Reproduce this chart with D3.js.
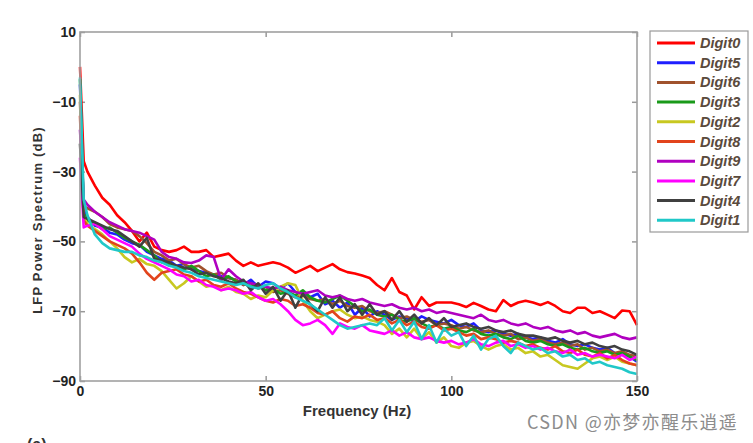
<!DOCTYPE html>
<html><head><meta charset="utf-8">
<script src="https://cdn.jsdelivr.net/npm/d3@7/dist/d3.min.js"></script>
<style>body{margin:0;background:#fff}svg{display:block}</style>
</head><body>
<svg id="c" width="753" height="443"></svg>
<script>
const freqs = [0,1,2,4,6,8,10,12,14,16,18,20,22,24,26,28,30,32,34,36,38,40,42,44,46,48,50,52,54,56,58,60,62,64,66,68,70,72,74,76,78,80,82,84,86,88,90,92,94,96,98,100,102,104,106,108,110,112,114,116,118,120,122,124,126,128,130,132,134,136,138,140,142,144,146,148,150];

const digit0 = [0,-27,
 -30,-34,-37.5,-39.5,-42.5,-44.5,-47,-50,-47.5,-51.5,
 -52.5,-53,-52.5,-51.5,-53,-53,-52.5,-54.5,-54,-53.5,
 -55.5,-57,-56,-57,-56.5,-56,-56.5,-57.5,-59,-58,
 -57,-58.5,-57.5,-56.5,-58,-58.8,-59.2,-59.8,-60.5,-62.5,
 -64,-60.5,-64.5,-65.5,-69.5,-66,-68.5,-67.5,-67.5,-67.5,
 -68,-68.8,-67.6,-68.5,-69.5,-70,-66.8,-68.5,-67.5,-67,
 -67.5,-68.2,-67.4,-68.5,-70,-70.5,-69,-69,-70.5,-70,
 -71,-72,-69.8,-70,-74];
const digit5 = [-5,-41,
 -43,-45.5,-46,-47.5,-48,-49.5,-50.5,-51,-53,-54,
 -55,-55.5,-57,-56.5,-58,-58.5,-59,-59.5,-60,-60.5,
 -61,-62.5,-61,-63,-61.5,-62,-63.5,-62,-64.5,-65,
 -66,-65,-68,-67,-69,-67.5,-71,-69,-71.5,-70,
 -71,-72.5,-71.5,-72,-73,-71.5,-72.5,-73,-73.5,-72.5,
 -74,-74.5,-73.5,-75.5,-76,-75.5,-76.5,-77,-76.5,-77.5,
 -78,-77.5,-78.5,-79,-78,-79.5,-80,-79.5,-80.5,-81,
 -80.5,-82,-82.5,-83,-84.5];
const digit6 = [-10,-40,
 -40.5,-41.5,-43,-45,-46,-46.5,-47,-48.5,-50.5,-53,
 -54,-55.5,-55,-56.5,-57.5,-57,-58.5,-59.5,-59,-60.5,
 -61,-62.5,-62,-63.5,-63,-64.5,-64,-65,-66,-65.5,
 -66.5,-67,-66.5,-68,-67,-68.5,-69,-68.5,-70,-70.5,
 -70,-71,-72,-71.5,-72.5,-73,-72.5,-74,-73.5,-74,
 -75,-74.5,-75.5,-76,-75.5,-76.5,-77,-76.5,-78,-77.5,
 -78.5,-78,-79,-79.5,-79,-80,-79.5,-81,-80.5,-81.5,
 -81,-82,-81.5,-82.5,-83];
const digit3 = [-3.5,-42,
 -44,-45,-46.5,-46,-47.5,-49,-50,-51,-52.5,-54,
 -56,-56.5,-57.5,-58,-57,-58.5,-60,-59.5,-61,-60,
 -61.5,-62,-63,-62.5,-64,-63.5,-65,-64.5,-65.5,-64,
 -66,-67,-67.5,-66.5,-65.5,-67,-68.5,-70,-69.5,-71,
 -71.5,-71,-72.5,-73,-72,-73.5,-74.5,-74,-75,-74.5,
 -75.5,-76,-75,-76.5,-77,-76.5,-77.5,-78,-77,-78.5,
 -79,-78.5,-79.5,-80,-79.5,-80.5,-81,-80.5,-81.5,-82,
 -81.5,-82.5,-82,-83,-84];
const digit2 = [-8,-43,
 -45,-46.5,-48,-50,-52,-54.5,-56,-55,-56.5,-57,
 -58.5,-61,-63.5,-62,-60,-61.5,-63,-62.5,-64,-63,
 -64.5,-65,-66.5,-65.5,-66,-64,-63,-62,-62.5,-67,
 -70,-72,-71,-70,-69.5,-71,-72,-71.5,-72.5,-73,
 -74,-76.5,-75,-77.5,-75,-78,-76,-79,-77.5,-80,
 -80.5,-79,-78.5,-80,-81,-80,-79.5,-81,-80.5,-82,
 -81.5,-83,-82.5,-84,-85.5,-86,-86.5,-85,-83.5,-83,
 -84,-83,-84.5,-85,-85.5];
const digit8 = [-14,-44,
 -45.5,-47,-48.5,-50,-51,-52,-53.5,-56,-59,-61,
 -59,-58.5,-58,-59.5,-60,-61.5,-61,-62.5,-63,-62,
 -63.5,-64.5,-65,-66,-67,-67.5,-66.5,-67,-68.5,-68,
 -69,-70.5,-71,-70,-72,-73,-71.5,-72,-71,-72.5,
 -72,-73.5,-72.5,-74,-73,-74.5,-75,-74,-75.5,-75,
 -76,-77,-76.5,-78,-77.5,-78,-79,-78.5,-79,-80,
 -79.5,-80.5,-81,-80,-81.5,-82,-81,-82.5,-83,-82,
 -83.5,-82.5,-84,-85,-85.5];
const digit9 = [-18,-38,
 -39.5,-41.5,-43,-44.5,-45.5,-46.5,-47,-47.5,-48.5,-49.5,
 -53,-54.5,-55,-56,-56.2,-55.5,-54,-54.5,-61,-58,
 -60,-61.5,-62,-62.5,-63,-63.5,-63,-64,-64.5,-65,
 -64.5,-64,-65.5,-66,-65.5,-66.5,-67,-66.5,-67.5,-68,
 -68.5,-68,-69,-69.5,-69,-70,-69.5,-70.5,-70,-70.5,
 -71,-71.5,-72,-71,-72.5,-73,-72.5,-73.5,-74,-73.5,
 -74.5,-75,-74.5,-75.5,-76,-75.5,-76.5,-76,-77,-77.5,
 -77,-76.5,-77.5,-78,-77.5];
const digit7 = [-26,-46,
 -45.5,-45,-46.5,-48.5,-49.5,-50.5,-51.5,-53.5,-55,-56,
 -57,-58,-59.5,-60,-61.5,-61,-62.5,-63,-64,-63.5,
 -64,-65,-64.5,-66,-67,-66.5,-68,-70,-72.5,-74,
 -73.5,-72.5,-74,-76.5,-73.5,-74.5,-75,-74,-75.5,-76,
 -76.5,-75.5,-77,-76,-77.5,-78,-77.5,-78.5,-79,-78.5,
 -79.5,-79,-78,-79.5,-80,-79,-78.5,-80,-79.5,-80.5,
 -80,-81,-80.5,-81.5,-82,-81,-82.5,-82,-83,-82.5,
 -83,-83.5,-82.5,-84,-83];
const digit4 = [-22,-43,
 -43.5,-44.5,-45.5,-46.5,-47,-48.5,-50,-51.5,-49,-55,
 -55.5,-56,-57,-57.5,-58,-59.5,-59,-60,-60.5,-61.5,
 -62,-61,-64,-62,-65,-63,-67,-64,-69,-65,
 -68,-70,-66,-69,-66,-70,-68,-71,-68,-71,
 -70,-72.5,-70,-73,-71,-73.5,-72,-74,-72,-74.5,
 -74,-73.5,-74.5,-75,-74.5,-75.5,-76,-75.5,-76.5,-77,
 -77,-77.5,-78,-77.5,-78.5,-79,-78.5,-79.5,-79,-80,
 -80.5,-80,-81,-81.5,-82.5];
const digit1 = [-3,-38,
 -42.5,-48,-50.5,-52,-52.5,-53,-53,-54,-54.5,-55.5,
 -56,-57,-57.5,-58.5,-59,-60,-60.5,-61,-61.5,-62,
 -62.5,-62,-63,-63.5,-62.5,-62,-63.5,-64.5,-66,-67,
 -68,-69.5,-71,-72.5,-74,-75,-74.5,-74,-73.5,-74,
 -72,-75.5,-72.5,-76,-73,-78,-74,-79,-75,-77,
 -76,-80,-77,-81,-78,-77,-80,-82,-79,-80,
 -81,-80.5,-82,-81.5,-83,-82.5,-84,-83.5,-85,-84.5,
 -85.5,-86,-86.5,-87.5,-88];

const seriesNames = ["Digit0","Digit5","Digit6","Digit3","Digit2","Digit8","Digit9","Digit7","Digit4","Digit1"];
const seriesValues = [digit0,digit5,digit6,digit3,digit2,digit8,digit9,digit7,digit4,digit1];
const seriesColors = ["#ff0000","#1f1fff","#a0522d","#1a9a1a","#c8c820","#e2441c","#b000c0","#ff00ff","#404040","#20c8c8"];
const xTicks = [0,50,100,150];
const yTicks = [10,-10,-30,-50,-70,-90];
const yTickLabels = ["10","\u221210","\u221230","\u221250","\u221270","\u221290"];

const svg = d3.select("#c");
const L=80, R=637, T=32, B=381;
const x = d3.scaleLinear().domain([0,150]).range([L,R]);
const y = d3.scaleLinear().domain([-90,10]).range([B,T]);

const tickFont = "bold 14px 'Liberation Sans', Arial, sans-serif";

const gx = svg.append("g").attr("transform",`translate(0,${B})`)
  .call(d3.axisBottom(x).tickValues(xTicks).tickSize(-5).tickPadding(5).tickFormat(d3.format("d")));
const gy = svg.append("g").attr("transform",`translate(${L},0)`)
  .call(d3.axisLeft(y).tickValues(yTicks).tickSize(-5).tickPadding(4).tickFormat((d,i)=>yTickLabels[i]));
const gt = svg.append("g").attr("transform",`translate(0,${T})`)
  .call(d3.axisTop(x).tickValues(xTicks).tickSize(-5).tickFormat(""));
const gr = svg.append("g").attr("transform",`translate(${R},0)`)
  .call(d3.axisRight(y).tickValues(yTicks).tickSize(-5).tickFormat(""));
[gx,gy,gt,gr].forEach(g=>{
  g.select(".domain").remove();
  g.selectAll(".tick line").attr("stroke","#999").attr("stroke-width",1.5);
  g.selectAll(".tick text").style("font",tickFont).attr("fill","#222");
});

const line = d3.line().x((d,i)=>x(freqs[i])).y(d=>y(d));
const lg = svg.append("g");
seriesValues.forEach((vals,k)=>{
  lg.append("path").datum(vals).attr("d",line)
    .attr("fill","none").attr("stroke",seriesColors[k])
    .attr("stroke-width",2.6).attr("stroke-linejoin","round");
});

svg.append("rect").attr("x",L).attr("y",T).attr("width",R-L).attr("height",B-T)
  .attr("fill","none").attr("stroke","#a0a0a0").attr("stroke-width",1.6);

svg.append("text").attr("x",357).attr("y",416).attr("text-anchor","middle")
  .style("font","bold 15px 'Liberation Sans', Arial, sans-serif").attr("fill","#333")
  .text("Frequency (Hz)");
svg.append("text").attr("transform","translate(42,220) rotate(-90)").attr("text-anchor","middle")
  .style("font","bold 13px 'Liberation Sans', Arial, sans-serif").style("letter-spacing","1.2px")
  .attr("fill","#333")
  .text("LFP Power Spectrum (dB)");

const leg = svg.append("g");
leg.append("rect").attr("x",650).attr("y",31).attr("width",98).attr("height",201)
  .attr("fill","#fff").attr("stroke","#9a9a9a").attr("stroke-width",1.2);
seriesNames.forEach((n,k)=>{
  const yy = 43 + k*19.7;
  leg.append("line").attr("x1",657).attr("x2",695).attr("y1",yy).attr("y2",yy)
    .attr("stroke",seriesColors[k]).attr("stroke-width",3);
  leg.append("text").attr("x",700).attr("y",yy+5)
    .style("font","italic bold 14.5px 'Liberation Sans', Arial, sans-serif")
    .attr("fill","#5a4a3c").text(n);
});

svg.append("text").attr("x",527).attr("y",429)
  .style("font","18px 'Noto Sans CJK SC', 'Noto Sans', sans-serif").style("letter-spacing","1.3px")
  .attr("fill","#8c8c8c")
  .text("CSDN @亦梦亦醒乐逍遥");
svg.append("text").attr("x",27).attr("y",450)
  .style("font","bold 16px 'Liberation Sans', Arial, sans-serif").attr("fill","#333")
  .text("(a)");
</script>
</body></html>
